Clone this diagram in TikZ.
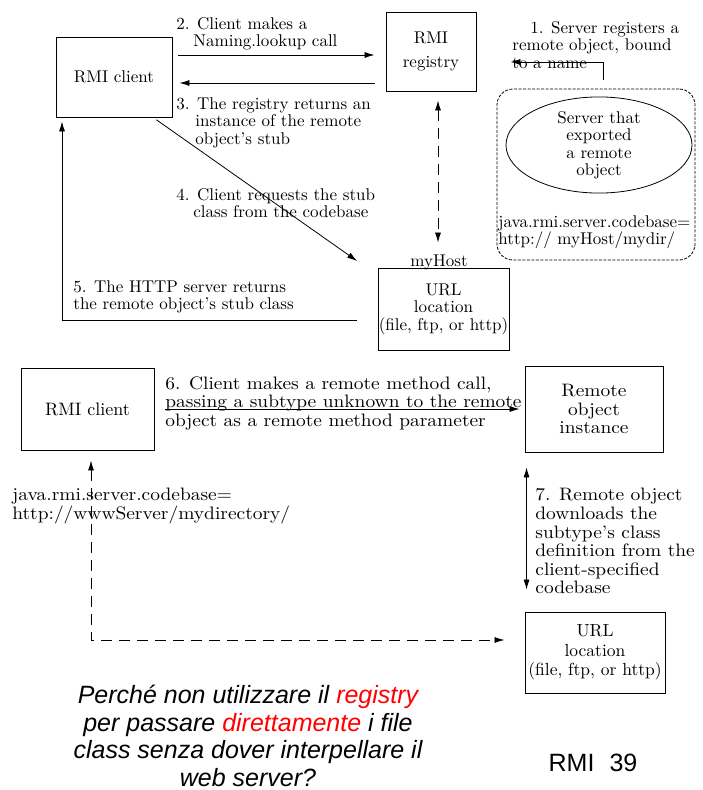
\documentclass[tikz,border=0pt]{standalone}
\usepackage{fontspec}
\usetikzlibrary{arrows.meta,shapes.geometric}
\newfontfamily\arialfont{Liberation Sans}
\newfontfamily\lmfont{lmroman10-regular.otf}[Ligatures=TeX]
\newfontfamily\widefont{lmroman10-regular.otf}[Ligatures=TeX, FakeStretch=1.08]
\tikzset{
  box/.style={draw, line width=.9pt, inner sep=0pt, align=center},
  lbl/.style={anchor=north west, inner sep=0pt, align=left},
  wide/.style={font=\widefont\fontsize{18}{18.6}\selectfont},
  dline/.style={dash pattern=on 11pt off 7pt},
}

\begin{document}
\begin{tikzpicture}[x=1pt, y=-1pt, >={Latex[length=10pt,width=6pt]}, line width=.8pt,
  font=\lmfont\fontsize{17}{17.5}\selectfont]
\useasboundingbox (0,0) rectangle (703,790);
% top half: lookup through the registry
\node[box, minimum width=116, minimum height=80] (client1) at (114,77) {RMI client};
\node[box, minimum width=90, minimum height=79] (registry) at (431,51.5) {RMI\\[6pt]registry};
\node[box, minimum width=131, minimum height=82] (url1) at (443.5,309) {URL\\location\\(file, ftp, or http)};
\node[draw, dash pattern=on 3pt off 1.5pt, rounded corners=16pt, minimum width=198, minimum height=171] (srvbox) at (596,174.5) {};
\node[draw, ellipse, minimum width=186, minimum height=90, inner sep=0pt, align=center] (server) at (599,145) {Server that\\exported\\a remote\\object};
\node[lbl] (cb1) at (498,215) {java.rmi.server.codebase=\\http:// myHost/mydir/};
\node[anchor=base, inner sep=0pt] (myhost) at (439,266) {myHost};

\coordinate (lv1) at (0,62);
\coordinate (x1) at (603,0);
\coordinate (lv2) at (0,55);
\coordinate (lv3) at (0,83);
\coordinate (lv5) at (0,320);
\coordinate (x5) at (62,0);

\draw[->, shorten <=9pt, shorten >=34pt] (srvbox.north -| x1) |- (registry.east |- lv1);
\node[lbl] (l1) at (512,21) {\hspace*{18pt}1. Server registers a\\remote object, bound\\to a name};

\draw[->, shorten <=6pt, shorten >=11pt] (client1.east |- lv2) -- (registry.west |- lv2);
\node[lbl] (l2) at (176,17) {2. Client makes a\\\hspace*{17pt}Naming.lookup call};

\draw[->, shorten <=11pt, shorten >=7pt] (registry.west |- lv3) -- (client1.east |- lv3);
\node[lbl] (l3) at (176,97) {3. The registry returns an\\\hspace*{19pt}instance of the remote\\\hspace*{19pt}object's stub};

\draw[->, shorten <=4pt, shorten >=25pt] (client1.-46) -- (url1.153);
\node[lbl] (l4) at (176,188) {4. Client requests the stub\\\hspace*{17pt}class from the codebase};

\draw[->, shorten <=21pt, shorten >=4pt] (url1.west |- lv5) -| (client1.south -| x5);
\node[lbl] (l5) at (73,280) {5. The HTTP server returns\\the remote object's stub class};

\draw[dline, <->, shorten <=9pt, shorten >=25pt] ([xshift=7pt]registry.south) -- ([xshift=-5.5pt]url1.north);

% bottom half: codebase given by the client
\node[box, font=\lmfont\fontsize{18}{18}\selectfont, minimum width=133, minimum height=82] (client2) at (87.5,409) {RMI client};
\node[box, wide, minimum width=138, minimum height=86] (remote) at (594,409) {Remote\\object\\instance};
\node[box, font=\lmfont\fontsize{17.5}{19.5}\selectfont, minimum width=140, minimum height=81] (url2) at (595,652.5) {URL\\location\\(file, ftp, or http)};

\coordinate (lv6) at (0,409);
\coordinate (bend) at (91,640);

\draw[->, shorten <=11pt, shorten >=5pt] (client2.east |- lv6) -- (remote.west |- lv6);
\node[lbl, wide] (l6) at (165,376) {6. Client makes a remote method call,\\passing a subtype unknown to the remote\\object as a remote method parameter};

\draw[<->, shorten <=15pt, shorten >=22pt] ([xshift=2pt]remote.south west) -- ([xshift=2pt]url2.north west);
\node[lbl, wide] (l7) at (535,488) {7. Remote object\\downloads the\\subtype's class\\definition from the\\client-specified\\codebase};

\draw[dline, <->, shorten <=10pt, shorten >=20pt] ([xshift=3.5pt]client2.south) -- (bend) -- (url2.west |- bend);
\node[lbl, wide] (cb2) at (12,488) {java.rmi.server.codebase=\\http://wwwServer/mydirectory/};

\node[font=\arialfont\itshape\fontsize{25}{27.5}\selectfont, align=center] (question) at (248,736)
  {Perché non utilizzare il \textcolor{red}{registry}\\per passare \textcolor{red}{direttamente} i file\\class senza dover interpellare il\\web server?};
\node[font=\arialfont\fontsize{25}{25}\selectfont] (page) at (593,763) {RMI\hspace{0.6em}39};
\end{tikzpicture}
\end{document}
